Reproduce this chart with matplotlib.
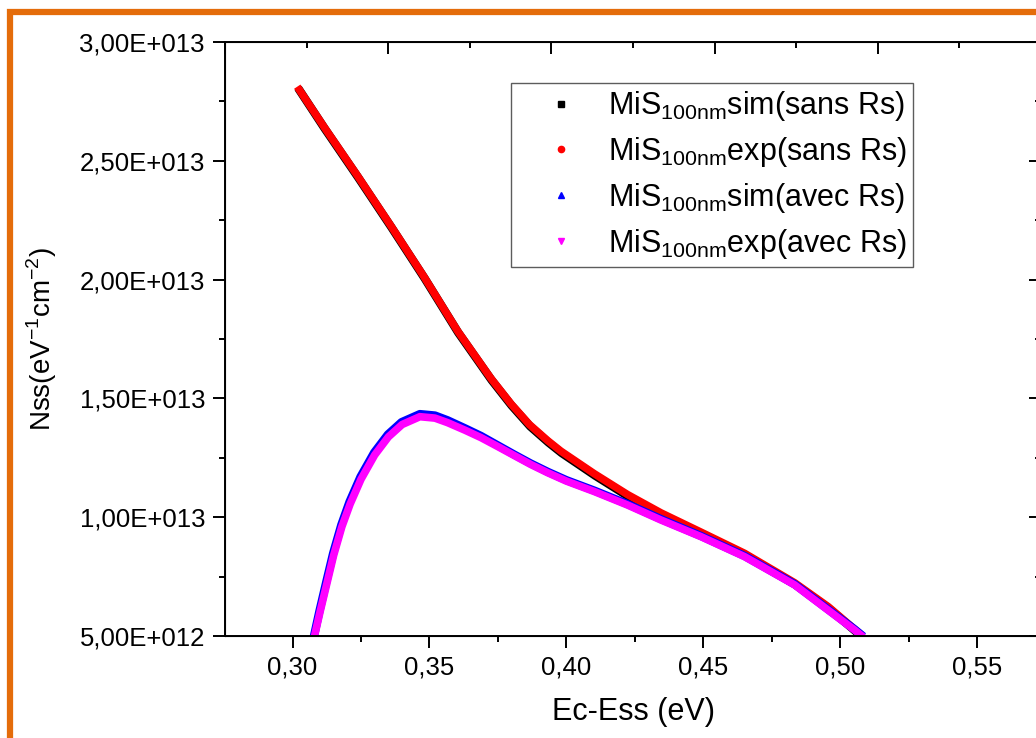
import numpy as np
import matplotlib.pyplot as plt
from matplotlib.lines import Line2D
from matplotlib.patches import Rectangle
from matplotlib.ticker import MultipleLocator, FuncFormatter, NullFormatter

plt.rcParams['font.family'] = ['Liberation Sans', 'DejaVu Sans']
plt.rcParams['mathtext.fontset'] = 'custom'
plt.rcParams['mathtext.rm'] = 'Liberation Sans'

# --- Data ---
# MiS 100nm, without series resistance
x_sim_sans = [0.3020, 0.3117, 0.3240, 0.3361, 0.3483, 0.3605, 0.3727, 0.3800, 0.3868, 0.3935,
              0.3983, 0.4105, 0.4227, 0.4349, 0.4495, 0.4654, 0.4837, 0.4959, 0.5081]
y_sim_sans = [2.806e13, 2.636e13, 2.429e13, 2.220e13, 2.004e13, 1.777e13, 1.577e13, 1.470e13, 1.382e13, 1.314e13,
              1.270e13, 1.175e13, 1.087e13, 1.010e13, 0.929e13, 0.840e13, 0.716e13, 0.616e13, 0.496e13]

x_exp_sans = [0.3017, 0.3114, 0.3237, 0.3358, 0.3480, 0.3602, 0.3724, 0.3797, 0.3865, 0.3932,
              0.3980, 0.4102, 0.4224, 0.4346, 0.4492, 0.4651, 0.4834, 0.4956, 0.5078]
y_exp_sans = [2.812e13, 2.644e13, 2.437e13, 2.228e13, 2.012e13, 1.785e13, 1.585e13, 1.478e13, 1.390e13, 1.322e13,
              1.278e13, 1.183e13, 1.095e13, 1.018e13, 0.937e13, 0.848e13, 0.724e13, 0.624e13, 0.504e13]

# MiS 100nm, with series resistance
x_sim_avec = [0.3078, 0.3098, 0.3123, 0.3148, 0.3178, 0.3208, 0.3248, 0.3298, 0.3348, 0.3398,
              0.3465, 0.3520, 0.3566, 0.3630, 0.3688, 0.3750, 0.3809, 0.3870, 0.3932, 0.4000,
              0.4102, 0.4224, 0.4346, 0.4492, 0.4651, 0.4834, 0.4956, 0.5053, 0.5085]
y_sim_avec = [0.500e13, 0.605e13, 0.728e13, 0.848e13, 0.968e13, 1.065e13, 1.170e13, 1.272e13, 1.348e13, 1.400e13,
              1.434e13, 1.428e13, 1.408e13, 1.374e13, 1.342e13, 1.302e13, 1.264e13, 1.226e13, 1.191e13, 1.156e13,
              1.112e13, 1.055e13, 0.992e13, 0.921e13, 0.837e13, 0.718e13, 0.612e13, 0.528e13, 0.498e13]

x_exp_avec = [0.3080, 0.3100, 0.3125, 0.3150, 0.3180, 0.3210, 0.3250, 0.3300, 0.3350, 0.3400,
              0.3465, 0.3520, 0.3566, 0.3630, 0.3688, 0.3750, 0.3809, 0.3870, 0.3932, 0.4000,
              0.4102, 0.4224, 0.4346, 0.4492, 0.4651, 0.4834, 0.4956, 0.5053, 0.5085]
y_exp_avec = [0.500e13, 0.600e13, 0.720e13, 0.840e13, 0.960e13, 1.055e13, 1.160e13, 1.262e13, 1.338e13, 1.390e13,
              1.423e13, 1.417e13, 1.398e13, 1.366e13, 1.335e13, 1.297e13, 1.260e13, 1.222e13, 1.187e13, 1.152e13,
              1.108e13, 1.051e13, 0.988e13, 0.918e13, 0.834e13, 0.715e13, 0.609e13, 0.525e13, 0.495e13]

labels = [r'MiS$_{\mathregular{100nm}}$sim(sans Rs)',
          r'MiS$_{\mathregular{100nm}}$exp(sans Rs)',
          r'MiS$_{\mathregular{100nm}}$sim(avec Rs)',
          r'MiS$_{\mathregular{100nm}}$exp(avec Rs)']

# --- Layout ---
W, H = 1036, 738
fig = plt.figure(figsize=(W / 100, H / 100), dpi=100, facecolor='white')
ax = fig.add_axes([225 / W, (H - 636) / H, (1041 - 225) / W, (636 - 42) / H])

# orange frame (right / bottom sides fall outside the picture)
fig.patches.append(Rectangle((10 / W, -0.2), 1.5, 1 - 12.5 / H + 0.2, transform=fig.transFigure,
                             fill=False, edgecolor='#E46C0A', linewidth=4.5))

# --- Curves ---
ax.plot(x_sim_sans, y_sim_sans, color='black', lw=6, solid_capstyle='butt')
ax.plot(x_exp_sans, y_exp_sans, color='red', lw=5.5, solid_capstyle='butt')
ax.plot(x_sim_avec, y_sim_avec, color='blue', lw=6, solid_capstyle='butt')
ax.plot(x_exp_avec, y_exp_avec, color='magenta', lw=5.5, solid_capstyle='butt')

# --- Axes ---
ax.set_xlim(0.2753, 0.5734)
ax.set_ylim(5e12, 3e13)
ax.xaxis.set_major_locator(MultipleLocator(0.05))
ax.xaxis.set_minor_locator(MultipleLocator(0.025))
ax.yaxis.set_major_locator(MultipleLocator(5e12))
ax.yaxis.set_minor_locator(MultipleLocator(2.5e12))


def sci_comma(v, pos):
    m, e = f'{v:.2E}'.split('E')
    return f'{m.replace(".", ",")}E{int(e):+04d}'


ax.xaxis.set_major_formatter(FuncFormatter(lambda v, p: f'{v:.2f}'.replace('.', ',')))
ax.yaxis.set_major_formatter(FuncFormatter(sci_comma))
ax.tick_params(which='both', direction='out', top=False, right=False, width=1.4, labelsize=18.5)
ax.tick_params(which='major', length=8.6, pad=5.8)
ax.tick_params(which='minor', length=4.3)
for sp in ax.spines.values():
    sp.set_linewidth(1.4)

ax.set_xlabel('Ec-Ess (eV)', fontsize=22, labelpad=12)
ax.set_ylabel(r'Nss(eV$^{\mathregular{-1}}$cm$^{\mathregular{-2}}$)', fontsize=20, labelpad=15)

# top axis: Origin-style independent ticks, pointing in
ax_top = ax.twiny()
ax_top.set_xlim(0, 1)
ax_top.set_xticks(np.arange(0, 1.01, 0.2))
ax_top.set_xticks(np.arange(0.1, 1, 0.2), minor=True)
ax_top.tick_params(which='both', direction='in', labeltop=False, width=1.4)
ax_top.tick_params(which='major', length=8.6)
ax_top.tick_params(which='minor', length=4.3)

# right axis: same as left, ticks pointing in
sec = ax.secondary_yaxis('right')
sec.yaxis.set_major_locator(MultipleLocator(5e12))
sec.yaxis.set_minor_locator(MultipleLocator(2.5e12))
sec.yaxis.set_major_formatter(NullFormatter())
sec.tick_params(which='both', direction='in', width=1.4)
sec.tick_params(which='major', length=8.6)
sec.tick_params(which='minor', length=4.3)

# --- Legend ---
handles = [Line2D([], [], ls='none', marker='s', color='black', ms=4.5),
           Line2D([], [], ls='none', marker='o', color='red', ms=4.5),
           Line2D([], [], ls='none', marker='^', color='blue', ms=5),
           Line2D([], [], ls='none', marker='v', color='magenta', ms=5)]
leg = ax.legend(handles, labels, loc='upper left',
                bbox_to_anchor=((511 - 225) / 816, (636 - 82.7) / 594),
                borderaxespad=0, fontsize=22, frameon=True, fancybox=False,
                borderpad=0.22, handlelength=2.83, handletextpad=0.12, labelspacing=0.385)
leg.get_frame().set_edgecolor('#333333')
leg.get_frame().set_linewidth(1.0)

plt.savefig('out.png', dpi=100, facecolor='white')
plt.close()
